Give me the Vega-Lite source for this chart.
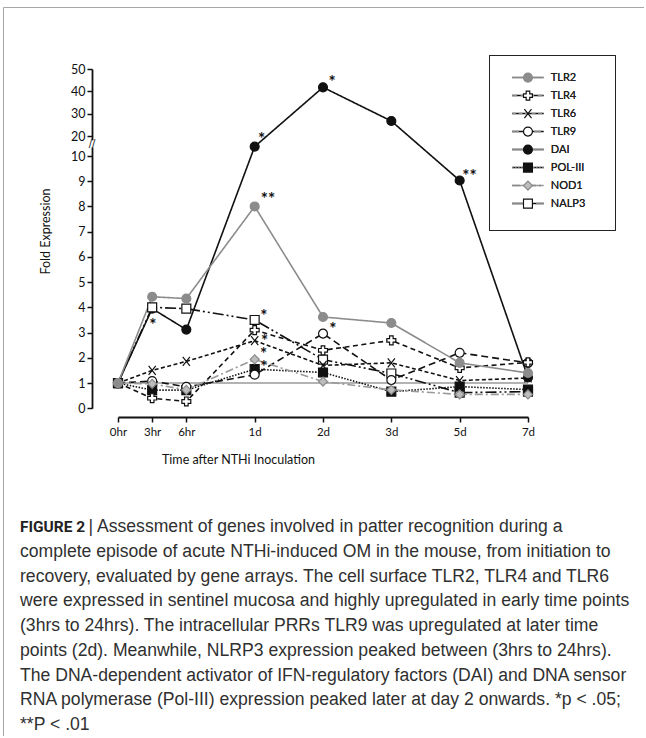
{
  "$schema": "https://vega.github.io/schema/vega-lite/v6.json",
  "width": 643,
  "height": 731,
  "autosize": {"type": "none"},
  "padding": {"left": 3, "top": 7, "right": -2, "bottom": -2},
  "background": "white",
  "config": {
    "view": {"stroke": "#a6a6a6", "strokeWidth": 1},
    "font": "Lato"
  },
  "datasets": {
    "expr": [
      {"gene": "DAI", "t": 0, "v": 1.0}, {"gene": "DAI", "t": 1, "v": 3.95}, {"gene": "DAI", "t": 2, "v": 3.12}, {"gene": "DAI", "t": 4, "v": 14.7}, {"gene": "DAI", "t": 6, "v": 41.8}, {"gene": "DAI", "t": 8, "v": 26.7}, {"gene": "DAI", "t": 10, "v": 9.03}, {"gene": "DAI", "t": 12, "v": 1.22},
      {"gene": "NALP3", "t": 0, "v": 1.0}, {"gene": "NALP3", "t": 1, "v": 4.0}, {"gene": "NALP3", "t": 2, "v": 3.95}, {"gene": "NALP3", "t": 4, "v": 3.5}, {"gene": "NALP3", "t": 6, "v": 1.93}, {"gene": "NALP3", "t": 8, "v": 1.38}, {"gene": "NALP3", "t": 10, "v": 0.62}, {"gene": "NALP3", "t": 12, "v": 0.66},
      {"gene": "POL-III", "t": 0, "v": 1.0}, {"gene": "POL-III", "t": 1, "v": 0.72}, {"gene": "POL-III", "t": 2, "v": 0.72}, {"gene": "POL-III", "t": 4, "v": 1.55}, {"gene": "POL-III", "t": 6, "v": 1.42}, {"gene": "POL-III", "t": 8, "v": 0.66}, {"gene": "POL-III", "t": 10, "v": 0.86}, {"gene": "POL-III", "t": 12, "v": 0.74},
      {"gene": "TLR6", "t": 0, "v": 1.0}, {"gene": "TLR6", "t": 1, "v": 1.5}, {"gene": "TLR6", "t": 2, "v": 1.86}, {"gene": "TLR6", "t": 4, "v": 2.68}, {"gene": "TLR6", "t": 6, "v": 1.7}, {"gene": "TLR6", "t": 8, "v": 1.8}, {"gene": "TLR6", "t": 10, "v": 1.1}, {"gene": "TLR6", "t": 12, "v": 1.2},
      {"gene": "TLR9", "t": 0, "v": 1.0}, {"gene": "TLR9", "t": 1, "v": 1.08}, {"gene": "TLR9", "t": 2, "v": 0.85}, {"gene": "TLR9", "t": 4, "v": 1.33}, {"gene": "TLR9", "t": 6, "v": 2.96}, {"gene": "TLR9", "t": 8, "v": 1.12}, {"gene": "TLR9", "t": 10, "v": 2.2}, {"gene": "TLR9", "t": 12, "v": 1.8},
      {"gene": "TLR4", "t": 0, "v": 1.0}, {"gene": "TLR4", "t": 1, "v": 0.4}, {"gene": "TLR4", "t": 2, "v": 0.27}, {"gene": "TLR4", "t": 4, "v": 3.1}, {"gene": "TLR4", "t": 6, "v": 2.3}, {"gene": "TLR4", "t": 8, "v": 2.69}, {"gene": "TLR4", "t": 10, "v": 1.6}, {"gene": "TLR4", "t": 12, "v": 1.82},
      {"gene": "NOD1", "t": 0, "v": 1.0}, {"gene": "NOD1", "t": 1, "v": 0.97}, {"gene": "NOD1", "t": 2, "v": 0.73}, {"gene": "NOD1", "t": 4, "v": 1.94}, {"gene": "NOD1", "t": 6, "v": 1.06}, {"gene": "NOD1", "t": 8, "v": 0.73}, {"gene": "NOD1", "t": 10, "v": 0.55}, {"gene": "NOD1", "t": 12, "v": 0.55},
      {"gene": "TLR2", "t": 0, "v": 1.0}, {"gene": "TLR2", "t": 1, "v": 4.42}, {"gene": "TLR2", "t": 2, "v": 4.35}, {"gene": "TLR2", "t": 4, "v": 8.0}, {"gene": "TLR2", "t": 6, "v": 3.62}, {"gene": "TLR2", "t": 8, "v": 3.38}, {"gene": "TLR2", "t": 10, "v": 1.8}, {"gene": "TLR2", "t": 12, "v": 1.4}
    ],
    "sig": [
      {"t": 1.02, "v": 3.47, "s": "*"},
      {"t": 4.27, "v": 3.83, "s": "*"},
      {"t": 4.29, "v": 2.84, "s": "*"},
      {"t": 4.26, "v": 2.31, "s": "*"},
      {"t": 4.27, "v": 1.78, "s": "*"},
      {"t": 6.29, "v": 3.3, "s": "*"},
      {"t": 4.2, "v": 20.4, "s": "*"},
      {"t": 6.27, "v": 45.8, "s": "*"},
      {"t": 4.39, "v": 8.45, "s": "**"},
      {"t": 10.29, "v": 9.37, "s": "**"}
    ],
    "captionHead": [
      {"line": 0, "label": "FIGURE 2", "rest": "| Assessment of genes involved in patter recognition during a"}
    ],
    "captionBody": [
      {"line": 1, "text": "complete episode of acute NTHi-induced OM in the mouse, from initiation to"},
      {"line": 2, "text": "recovery, evaluated by gene arrays. The cell surface TLR2, TLR4 and TLR6"},
      {"line": 3, "text": "were expressed in sentinel mucosa and highly upregulated in early time points"},
      {"line": 4, "text": "(3hrs to 24hrs). The intracellular PRRs TLR9 was upregulated at later time"},
      {"line": 5, "text": "points (2d). Meanwhile, NLRP3 expression peaked between (3hrs to 24hrs)."},
      {"line": 6, "text": "The DNA-dependent activator of IFN-regulatory factors (DAI) and DNA sensor"},
      {"line": 7, "text": "RNA polymerase (Pol-III) expression peaked later at day 2 onwards. *p < .05;"},
      {"line": 8, "text": "**P < .01"}
    ]
  },
  "layer": [
    {
      "data": {"name": "expr"},
      "resolve": {"scale": {"stroke": "independent", "strokeDash": "independent", "shape": "independent", "fill": "independent"}},
      "layer": [
        {
          "data": {"values": [{"fold": 1}]},
          "mark": {"type": "rule", "stroke": "#9a9a9a", "strokeWidth": 1.5},
          "encoding": {
            "x": {"datum": 0, "type": "quantitative"},
            "x2": {"datum": 12},
            "y": {"field": "fold", "type": "quantitative"}
          }
        },
        {
          "mark": {"type": "line", "strokeWidth": 1.6},
          "encoding": {
            "x": {
              "field": "t", "type": "quantitative",
              "scale": {"domain": [0, 12], "range": [115, 525], "nice": false, "zero": false},
              "axis": {
                "values": [0, 1, 2, 4, 6, 8, 10, 12],
                "labelExpr": "['0hr','3hr','6hr','','1d','','2d','','3d','','5d','','7d'][datum.value]",
                "title": "Time after NTHi Inoculation",
                "offset": -321, "grid": false,
                "domainColor": "#111", "domainWidth": 1.8,
                "tickColor": "#111", "tickWidth": 1.5, "tickSize": 5,
                "labelFont": "Lato", "labelFontSize": 11.5, "labelColor": "#111", "labelPadding": 4,
                "labelFlush": false, "labelOverlap": false,
                "titleFont": "Lato", "titleFontSize": 12.5, "titleFontWeight": "normal", "titleColor": "#111",
                "titleX": 235, "titleY": 42, "titleBaseline": "middle"
              }
            },
            "y": {
              "field": "v", "type": "quantitative",
              "scale": {"domain": [0, 10, 20, 50], "range": [401.3, 149, 129, 62], "nice": false, "zero": false},
              "axis": {
                "values": [0, 1, 2, 3, 4, 5, 6, 7, 8, 9, 10, 20, 30, 40, 50],
                "title": "Fold Expression",
                "offset": -89, "grid": false,
                "domainColor": "#111", "domainWidth": 1.8,
                "tickColor": "#111", "tickWidth": 1.5, "tickSize": 5,
                "labelFont": "Lato", "labelFontSize": 12.5, "labelColor": "#111", "labelPadding": 2,
                "labelOverlap": false, "labelFlush": false,
                "titleFont": "Lato", "titleFontSize": 12.5, "titleFontWeight": "normal", "titleColor": "#111",
                "titleAngle": -90, "titleX": -47, "titleY": 224, "titleBaseline": "middle", "titleAlign": "center"
              }
            },
            "stroke": {
              "field": "gene", "type": "nominal",
              "sort": ["TLR2", "TLR4", "TLR6", "TLR9", "DAI", "POL-III", "NOD1", "NALP3"],
              "scale": {"range": ["#8c8c8c", "#111111", "#111111", "#111111", "#111111", "#111111", "#999999", "#111111"]},
              "legend": {
                "orient": "none", "legendX": 486, "legendY": 48,
                "title": [".", ".", ".", ".", ".", ".", ".", ".", "."],
                "titleOrient": "right", "titleOpacity": 0, "titleFontSize": 8, "titleLineHeight": 17.8, "titlePadding": 14,
                "symbolType": "stroke", "symbolSize": 1000, "symbolStrokeWidth": 1.6,
                "clipHeight": 17.13, "rowPadding": 0, "padding": 14,
                "symbolOffset": 7.9, "labelOffset": 5.9,
                "labelExpr": "datum.label + '\u00a0\u00a0\u00a0\u00a0\u00a0\u00a0\u00a0\u00a0\u00a0\u00a0\u00a0\u00a0'",
                "labelFont": "Lato", "labelFontSize": 11, "labelFontWeight": "normal", "labelColor": "#222",
                "strokeColor": "#222"
              }
            },
            "strokeDash": {
              "field": "gene", "type": "nominal",
              "sort": ["TLR2", "TLR4", "TLR6", "TLR9", "DAI", "POL-III", "NOD1", "NALP3"],
              "scale": {"range": [[1, 0], [5, 3.5], [4, 2.5], [7, 4], [1, 0], [1.5, 1.5], [8, 3, 2, 3], [11, 3, 2, 3, 2, 3]]},
              "legend": {
                "orient": "none", "legendX": 486, "legendY": 48,
                "title": [".", ".", ".", ".", ".", ".", ".", ".", "."],
                "titleOrient": "right", "titleOpacity": 0, "titleFontSize": 8, "titleLineHeight": 17.8, "titlePadding": 14,
                "symbolType": "stroke", "symbolSize": 1000, "symbolStrokeWidth": 1.6,
                "clipHeight": 17.13, "rowPadding": 0, "padding": 14,
                "symbolOffset": 7.9, "labelOffset": 5.9,
                "labelExpr": "datum.label + '\u00a0\u00a0\u00a0\u00a0\u00a0\u00a0\u00a0\u00a0\u00a0\u00a0\u00a0\u00a0'",
                "labelFont": "Lato", "labelFontSize": 11, "labelFontWeight": "normal", "labelColor": "#222",
                "strokeColor": "#222"
              }
            }
          }
        },
        {
          "mark": {"type": "point", "filled": true, "size": 80, "strokeWidth": 1.2, "opacity": 1},
          "encoding": {
            "x": {"field": "t", "type": "quantitative"},
            "y": {"field": "v", "type": "quantitative"},
            "shape": {
              "field": "gene", "type": "nominal",
              "scale": {
                "domain": ["TLR2", "TLR4", "TLR6", "TLR9", "DAI", "POL-III", "NOD1", "NALP3"],
                "range": ["circle", "cross", "M-0.8,-1L0.8,1M-0.8,1L0.8,-1", "circle", "circle", "square", "diamond", "square"]
              },
              "legend": {
                "orient": "none", "legendX": 505.45, "legendY": 48, "title": null,
                "symbolSize": 80, "symbolStrokeWidth": 1.2,
                "clipHeight": 17.13, "rowPadding": 0, "padding": 14,
                "labelExpr": "''"
              }
            },
            "fill": {
              "field": "gene", "type": "nominal",
              "scale": {
                "domain": ["TLR2", "TLR4", "TLR6", "TLR9", "DAI", "POL-III", "NOD1", "NALP3"],
                "range": ["#8c8c8c", "#ffffff", "transparent", "#ffffff", "#111111", "#111111", "#bdbdbd", "#ffffff"]
              },
              "legend": {
                "orient": "none", "legendX": 505.45, "legendY": 48, "title": null,
                "symbolSize": 80, "symbolStrokeWidth": 1.2,
                "clipHeight": 17.13, "rowPadding": 0, "padding": 14,
                "labelExpr": "''"
              }
            },
            "stroke": {
              "field": "gene", "type": "nominal",
              "scale": {
                "domain": ["TLR2", "TLR4", "TLR6", "TLR9", "DAI", "POL-III", "NOD1", "NALP3"],
                "range": ["#8c8c8c", "#111111", "#111111", "#111111", "#111111", "#111111", "#8a8a8a", "#111111"]
              },
              "legend": {
                "orient": "none", "legendX": 505.45, "legendY": 48, "title": null,
                "symbolSize": 80, "symbolStrokeWidth": 1.2,
                "clipHeight": 17.13, "rowPadding": 0, "padding": 14,
                "labelExpr": "''"
              }
            }
          }
        },
        {
          "data": {"name": "sig"},
          "mark": {"type": "text", "font": "Lato", "fontSize": 17, "fontWeight": "bold", "baseline": "middle", "align": "center", "dy": 5, "color": "#111"},
          "encoding": {
            "x": {"field": "t", "type": "quantitative"},
            "y": {"field": "v", "type": "quantitative"},
            "text": {"field": "s"}
          }
        },
        {
          "data": {"values": [{"t": 0, "v": 16}]},
          "mark": {"type": "text", "text": "\u2588", "font": "DejaVu Sans", "fontSize": 6, "baseline": "middle", "align": "center", "dx": -26, "color": "white"},
          "encoding": {
            "x": {"field": "t", "type": "quantitative"},
            "y": {"field": "v", "type": "quantitative"}
          }
        },
        {
          "data": {"values": [{"t": 0, "v": 16}]},
          "mark": {"type": "text", "text": "//", "font": "DejaVu Sans", "fontSize": 10, "baseline": "middle", "align": "center", "dx": -26, "color": "#111"},
          "encoding": {
            "x": {"field": "t", "type": "quantitative"},
            "y": {"field": "v", "type": "quantitative"}
          }
        }
      ]
    },
    {
      "layer": [
        {
          "data": {"name": "captionBody"},
          "mark": {"type": "text", "align": "left", "baseline": "middle", "font": "Liberation Sans", "fontSize": 17.6, "color": "#303030", "dx": 17},
          "encoding": {
            "x": {"datum": 0, "type": "quantitative", "scale": {"domain": [0, 1]}, "axis": null},
            "y": {"field": "line", "type": "quantitative", "scale": {"domain": [0, 8], "range": [520, 718]}, "axis": null},
            "text": {"field": "text"}
          }
        },
        {
          "data": {"name": "captionHead"},
          "mark": {"type": "text", "align": "left", "baseline": "middle", "font": "Roboto", "fontWeight": "bold", "fontSize": 15.5, "color": "#222", "dx": 17},
          "encoding": {
            "x": {"datum": 0, "type": "quantitative"},
            "y": {"field": "line", "type": "quantitative"},
            "text": {"field": "label"}
          }
        },
        {
          "data": {"name": "captionHead"},
          "mark": {"type": "text", "align": "left", "baseline": "middle", "font": "Liberation Sans", "fontSize": 17.6, "color": "#303030", "dx": 85.5},
          "encoding": {
            "x": {"datum": 0, "type": "quantitative"},
            "y": {"field": "line", "type": "quantitative"},
            "text": {"field": "rest"}
          }
        }
      ]
    }
  ],
  "resolve": {"scale": {"x": "independent", "y": "independent"}}
}
